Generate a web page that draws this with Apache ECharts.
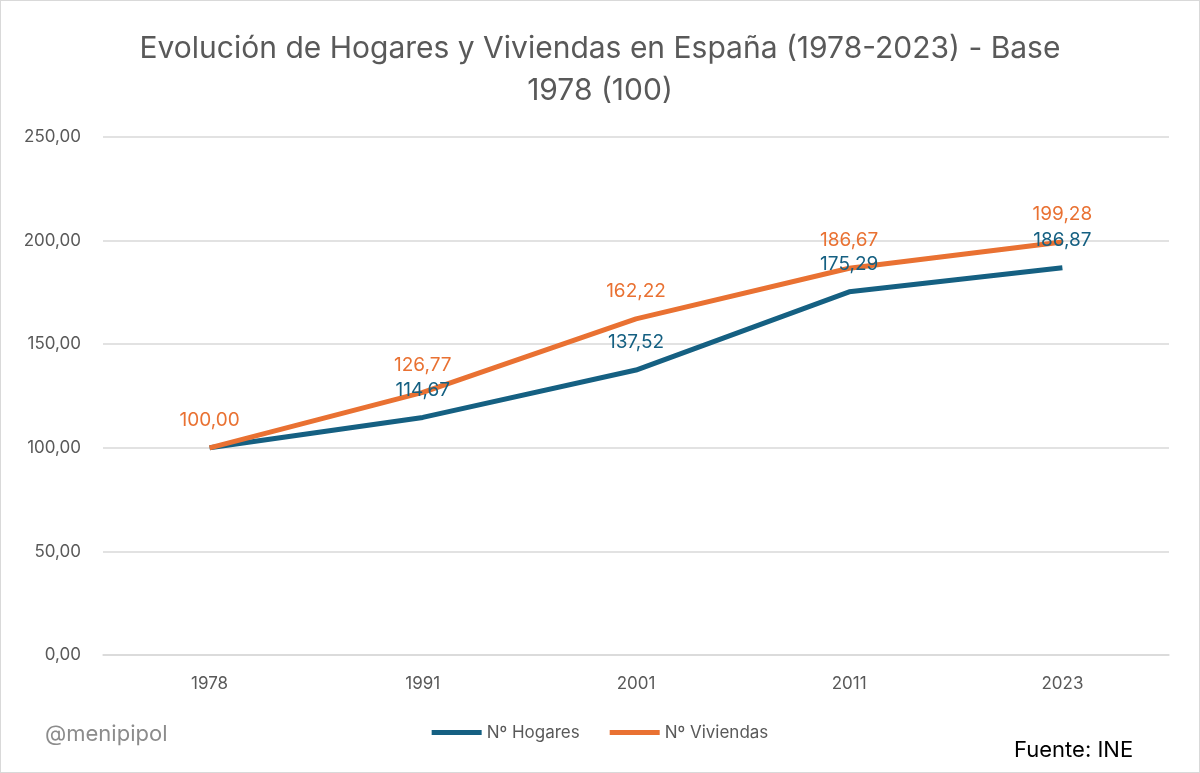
<!DOCTYPE html>
<html><head><meta charset="utf-8">
<script src="https://cdn.jsdelivr.net/npm/echarts@6/dist/echarts.min.js"></script>
<style>html,body{margin:0;padding:0;background:#fff}#c{width:1200px;height:773px;box-sizing:border-box;border:1px solid #d9d9d9}</style>
</head><body><div id="c"></div>
<script>
const categories = ['1978','1991','2001','2011','2023'];
const hogares = [100.00,114.67,137.52,175.29,186.87];
const viviendas = [100.00,126.77,162.22,186.67,199.28];
const fmt = v => v.toFixed(2).replace('.', ',');
const chart = echarts.init(document.getElementById('c'));
const font = 'Inter, "Noto Sans", sans-serif';
chart.setOption({
  animation:false,
  textStyle:{fontFamily:font},
  title:{text:'Evolución de Hogares y Viviendas en España (1978-2023) - Base\n1978 (100)',left:'center',top:22,
    textStyle:{fontSize:30,fontWeight:'normal',color:'#595959',lineHeight:42,fontFamily:font}},
  graphic:[
    {type:'text',left:44,top:722,style:{text:'@menipipol',fontSize:22,fill:'#8c8c8c',fontFamily:font}},
    {type:'text',left:1013,top:738,style:{text:'Fuente: INE',fontSize:22,fill:'#000',fontFamily:font}}
  ],
  legend:{bottom:26,left:'center',itemWidth:50,itemHeight:5,itemGap:30,icon:'rect',
    textStyle:{fontSize:17,color:'#595959'},data:['Nº Hogares','Nº Viviendas']},
  grid:{left:102,right:30,top:136,bottom:117},
  xAxis:{type:'category',data:categories,boundaryGap:true,
    axisLine:{lineStyle:{color:'#d9d9d9',width:1.5}},axisTick:{show:false},
    axisLabel:{fontSize:17,color:'#595959',margin:20}},
  yAxis:{type:'value',min:0,max:250,interval:50,
    axisLabel:{formatter:v=>fmt(v),fontSize:17,color:'#595959',margin:22},
    splitLine:{lineStyle:{color:'#d9d9d9',width:1.5}},axisLine:{show:false}},
  series:[
    {name:'Nº Hogares',type:'line',data:hogares,symbol:'circle',symbolSize:0,showSymbol:true,lineStyle:{width:5,color:'#156082'},itemStyle:{color:'#156082'},
      label:{show:true,position:'top',distance:18,fontSize:19,color:'#156082',
        formatter:p=>p.dataIndex===0?'':fmt(p.value)}},
    {name:'Nº Viviendas',type:'line',data:viviendas,symbol:'circle',symbolSize:0,showSymbol:true,lineStyle:{width:5,color:'#e97132'},itemStyle:{color:'#e97132'},
      label:{show:true,position:'top',distance:18,fontSize:19,color:'#e97132',formatter:p=>fmt(p.value)}}
  ]
});
</script></body></html>
